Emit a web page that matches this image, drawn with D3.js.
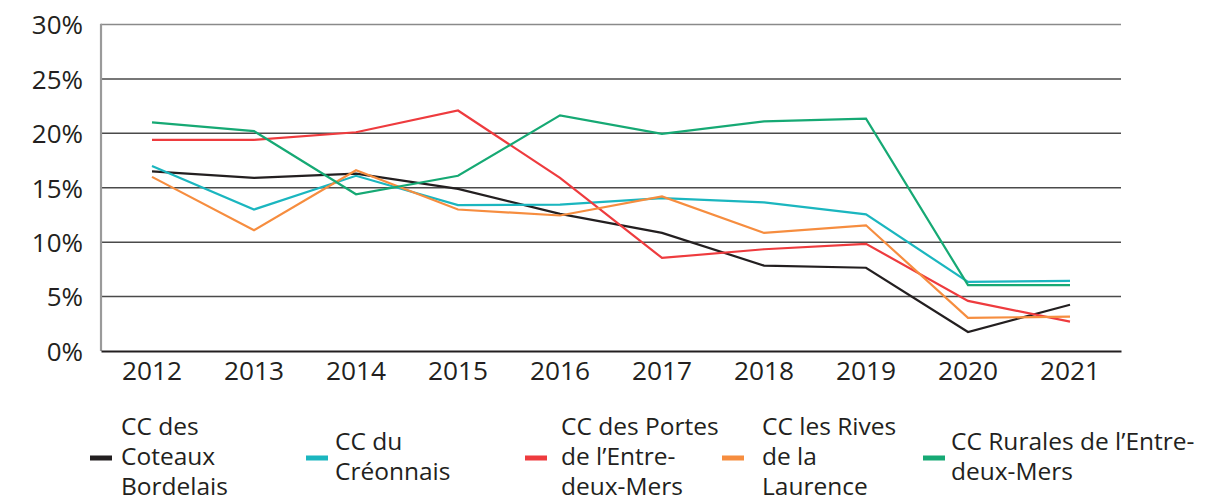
<!DOCTYPE html>
<meta charset="utf-8">
<html>
<head>
<style>
body { margin: 0; background: #fff; }
svg text { font-family: "Open Sans", "Noto Sans", sans-serif; fill: #231f20; }
</style>
</head>
<body>
<svg class="chart" width="1227" height="495"></svg>
<script src="https://cdn.jsdelivr.net/npm/d3@7"></script>
<script>

const years = ["2012","2013","2014","2015","2016","2017","2018","2019","2020","2021"]
const yTicks = [0, 5, 10, 15, 20, 25, 30]

const coteaux   = [16.5, 15.9, 16.3, 14.9, 12.6, 10.85, 7.85, 7.65, 1.75, 4.25]
const creonnais = [17.0, 13.0, 16.1, 13.4, 13.45, 14.05, 13.65, 12.55, 6.35, 6.45]
const portes    = [19.4, 19.4, 20.1, 22.1, 15.9, 8.55, 9.35, 9.85, 4.6, 2.7]
const rives     = [16.0, 11.1, 16.6, 13.0, 12.45, 14.2, 10.85, 11.55, 3.05, 3.15]
const rurales   = [21.0, 20.2, 14.4, 16.1, 21.65, 19.95, 21.1, 21.35, 6.05, 6.05]

const seriesNames = [
  ["CC des", "Coteaux", "Bordelais"],
  ["CC du", "Créonnais"],
  ["CC des Portes", "de l’Entre-", "deux-Mers"],
  ["CC les Rives", "de la", "Laurence"],
  ["CC Rurales de l’Entre-", "deux-Mers"]
]
const seriesValues = [coteaux, creonnais, portes, rives, rurales]
const colors = ["#231f20", "#1bb6bf", "#ee3b3e", "#f68d3f", "#16a974"]

// legend layout (marker left edge, text left edge)
const legendX = [[90,121],[306,335],[525,561],[722,762],[923,951]]

const margin = {left: 101, right: 1121, top: 24.5, bottom: 351}

var svg = d3.select("svg.chart")

var x = d3.scaleBand()
  .domain(years)
  .range([margin.left, margin.right])

var y = d3.scaleLinear()
  .domain([0, 30])
  .range([margin.bottom, margin.top])

// gridlines
svg.append("g").selectAll("line")
  .data(yTicks.filter((d) => d > 0))
  .enter().append("line")
  .attr("x1", margin.left)
  .attr("x2", margin.right)
  .attr("y1", (d) => y(d))
  .attr("y2", (d) => y(d))
  .attr("stroke", (d) => d == 30 ? "#8a8a8a" : "#4a4a4a")
  .attr("stroke-width", 1.5)

// left axis line
svg.append("line")
  .attr("x1", margin.left).attr("x2", margin.left)
  .attr("y1", margin.top - 0.75).attr("y2", margin.bottom)
  .attr("stroke", "#9a9a9a")
  .attr("stroke-width", 2.2)

// y axis labels
var yAxis = svg.append("g")
  .attr("transform", "translate(" + margin.left + ",0)")
  .call(d3.axisLeft(y).tickValues(yTicks).tickSize(0).tickPadding(18).tickFormat((d) => d + "%"))
yAxis.select(".domain").remove()
yAxis.selectAll("text")
  .attr("font-size", 26)
  .attr("dy", "0.36em")

// x axis
var xAxis = svg.append("g")
  .attr("transform", "translate(0," + margin.bottom + ")")
  .call(d3.axisBottom(x).tickSize(0).tickPadding(10))
xAxis.select(".domain")
  .attr("stroke", "#231f20")
  .attr("stroke-width", 1.8)
xAxis.selectAll("text")
  .attr("font-size", 26.3)
  .attr("dy", "0.72em")

// lines
var line = d3.line()
  .x((d, i) => x(years[i]) + x.bandwidth() / 2)
  .y((d) => y(d))

svg.append("g").selectAll("path")
  .data(seriesValues)
  .enter().append("path")
  .attr("d", line)
  .attr("fill", "none")
  .attr("stroke", (d, i) => colors[i])
  .attr("stroke-width", 2.2)
  .attr("stroke-linejoin", "miter")

// legend
var legendCenter = 458
var lineH = 30

var items = svg.append("g").selectAll("g")
  .data(seriesNames)
  .enter().append("g")

items.append("rect")
  .attr("x", (d, i) => legendX[i][0])
  .attr("y", legendCenter - 2.5)
  .attr("width", 22)
  .attr("height", 5)
  .attr("fill", (d, i) => colors[i])

items.each(function(d, i) {
  var first = legendCenter + 7 - (d.length - 1) * lineH / 2
  d3.select(this).selectAll("text")
    .data(d)
    .enter().append("text")
    .attr("x", legendX[i][1])
    .attr("y", (t, j) => first + j * lineH)
    .attr("font-size", 24.5)
    .text((t) => t)
})
</script>
</body>
</html>
